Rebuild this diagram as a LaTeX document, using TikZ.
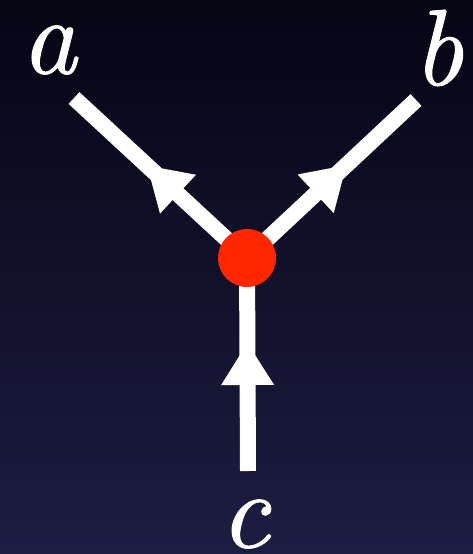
\documentclass[tikz,border=0pt]{standalone}
\usepackage{fontspec}
\newfontfamily\lblfont{lmroman10-italic.otf}[FakeBold=0.9]
\usetikzlibrary{decorations.markings}
\definecolor{bgtop}{RGB}{6,5,20}
\definecolor{bgbot}{RGB}{28,29,66}
\definecolor{dotred}{RGB}{255,38,0}
\begin{document}
\begin{tikzpicture}[x=1pt,y=1pt,
  leg/.style={draw=white,line width=16pt,line cap=butt},
  midarrow/.style={postaction={decorate},decoration={markings,
    mark=at position #1 with {\fill[white] (21pt,0pt) -- (-21pt,26.5pt) -- (-21pt,-26.5pt) -- cycle;}}},
  lbl/.style={text=white,inner sep=0pt,font=\lblfont\fontsize{108}{112}\selectfont\bfseries}]
\shade[top color=bgtop,bottom color=bgbot] (0,0) rectangle (473,-554);
\useasboundingbox (0,0) rectangle (473,-554);
\coordinate (o) at (247,-258);
\coordinate (A) at (74,-98);
\coordinate (B) at (416,-100);
\coordinate (C) at (248,-471);
\draw[leg,midarrow=115pt] (o) -- (A);
\draw[leg,midarrow=115pt] (o) -- (B);
\draw[leg,midarrow=107pt] (C) -- (o);
\node[circle,fill=dotred,minimum size=58pt,inner sep=0pt] (dot) at (o) {};
\node[lbl] (la) at (49,-50) {a};
\node[lbl] (lb) at (438,-48) {b};
\node[lbl] (lc) at (245,-524) {c};
\end{tikzpicture}
\end{document}
